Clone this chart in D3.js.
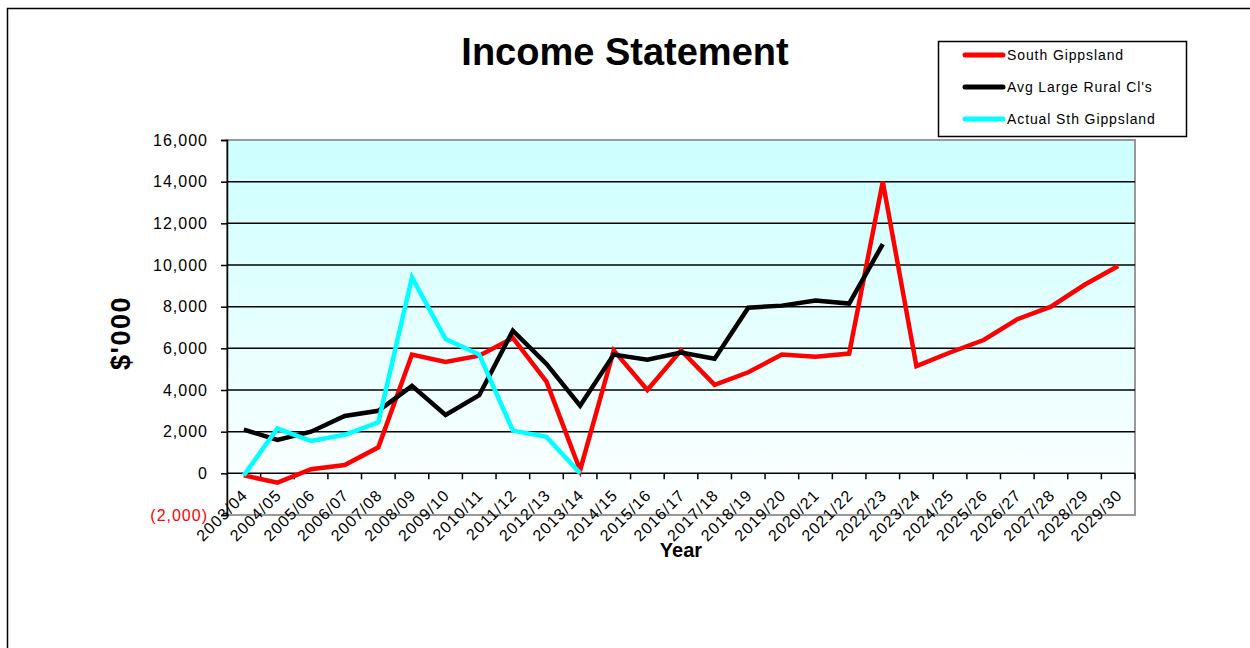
<!DOCTYPE html>
<html>
<head>
<meta charset="utf-8">
<script src="https://cdn.jsdelivr.net/npm/d3@7"></script>
<style>
  body { margin: 0; background: #fff; }
  svg { font-family: 'Liberation Sans', Arial, sans-serif; }
</style>
</head>
<body>
<svg id="chart" width="1250" height="648"></svg>
<script>
const years = ['2003/04', '2004/05', '2005/06', '2006/07', '2007/08', '2008/09', '2009/10',
    '2010/11', '2011/12', '2012/13', '2013/14', '2014/15', '2015/16', '2016/17', '2017/18',
    '2018/19', '2019/20', '2020/21', '2021/22', '2022/23', '2023/24', '2024/25', '2025/26',
    '2026/27', '2027/28', '2028/29', '2029/30'];

const southGippsland = [-100, -450, 200, 400, 1250, 5700, 5350, 5650, 6500, 4400, 150,
    5900, 4000, 5900, 4250, 4850, 5700, 5600, 5750, 14000, 5150, 5800, 6400, 7400, 8000, 9050, 9950];
const avgLargeRural = [2100, 1600, 2000, 2750, 3000, 4200, 2800, 3750, 6850, 5250, 3250,
    5700, 5450, 5800, 5500, 7950, 8050, 8300, 8150, 11000];
const actualSthGippsland = [-100, 2150, 1550, 1850, 2450, 9400, 6450, 5700, 2050, 1750, 0];

const yTicks = [-2000, 0, 2000, 4000, 6000, 8000, 10000, 12000, 14000, 16000];

const series = [
    { name: 'South Gippsland', color: '#ff0000', values: southGippsland },
    { name: "Avg Large Rural Cl's", color: '#000000', values: avgLargeRural },
    { name: 'Actual Sth Gippsland', color: '#00ffff', values: actualSthGippsland }
];

const plot = { left: 227, top: 140, right: 1135, bottom: 515 };

const svg = d3.select('#chart');

// outer frame
svg.append('rect')
    .attr('x', 7.5).attr('y', 8.5)
    .attr('width', 1260).attr('height', 700)
    .attr('fill', 'none').attr('stroke', '#000').attr('stroke-width', 1.5);

const defs = svg.append('defs');
const grad = defs.append('linearGradient')
    .attr('id', 'bg').attr('x1', 0).attr('y1', 0).attr('x2', 0).attr('y2', 1);
grad.append('stop').attr('offset', '0%').attr('stop-color', '#ccffff');
grad.append('stop').attr('offset', '100%').attr('stop-color', '#ffffff');

const x = d3.scaleBand()
    .domain(years)
    .range([plot.left, plot.right])
    .padding(0);

const y = d3.scaleLinear()
    .domain([-2000, 16000])
    .range([plot.bottom, plot.top]);

svg.append('rect')
    .attr('x', plot.left).attr('y', plot.top)
    .attr('width', plot.right - plot.left).attr('height', plot.bottom - plot.top)
    .attr('fill', 'url(#bg)')
    .attr('stroke', '#999').attr('stroke-width', 2);

// gridlines
svg.append('g')
    .selectAll('line')
    .data(yTicks.filter(d => d > -2000 && d < 16000))
    .enter().append('line')
    .attr('x1', plot.left).attr('x2', plot.right)
    .attr('y1', d => y(d)).attr('y2', d => y(d))
    .attr('stroke', '#000').attr('stroke-width', 1.5);

// y axis
const yAxis = svg.append('g')
    .attr('transform', `translate(${plot.left},0)`)
    .call(d3.axisLeft(y).tickValues(yTicks).tickSize(6).tickPadding(13)
        .tickFormat(d => d < 0 ? `(${d3.format(',')(-d)})` : d3.format(',')(d)));
yAxis.select('.domain').attr('stroke', '#000').attr('stroke-width', 1.5);
yAxis.selectAll('.tick line').attr('stroke', '#000').attr('stroke-width', 1.5);
yAxis.selectAll('.tick text')
    .attr('font-size', 16)
    .attr('letter-spacing', '1px')
    .attr('fill', d => d < 0 ? '#ff0000' : '#000');

// x axis along zero line, ticks between categories
const bounds = years.slice(1).map(d => x(d)).concat([plot.right]);
svg.append('g')
    .selectAll('line')
    .data(bounds)
    .enter().append('line')
    .attr('x1', d => d).attr('x2', d => d)
    .attr('y1', y(0)).attr('y2', y(0) + 6)
    .attr('stroke', '#000').attr('stroke-width', 1.5);

svg.append('g')
    .selectAll('text')
    .data(years)
    .enter().append('text')
    .attr('transform', d => `translate(${x(d) + x.bandwidth() / 2 + 5},${y(0) + 23}) rotate(-45)`)
    .attr('text-anchor', 'end')
    .attr('font-size', 16)
    .attr('letter-spacing', '1px')
    .attr('fill', '#000')
    .text(d => d);

// lines
const line = d3.line()
    .x((d, i) => x(years[i]) + x.bandwidth() / 2)
    .y(d => y(d));

svg.append('g')
    .selectAll('path')
    .data(series)
    .enter().append('path')
    .attr('d', d => line(d.values))
    .attr('fill', 'none')
    .attr('stroke', d => d.color)
    .attr('stroke-width', 4.5)
    .attr('stroke-linejoin', 'miter');

// title
svg.append('text')
    .attr('x', 625).attr('y', 65)
    .attr('text-anchor', 'middle')
    .attr('font-size', 38)
    .attr('font-weight', 'bold')
    .text('Income Statement');

// axis titles
svg.append('text')
    .attr('transform', `translate(130,333) rotate(-90)`)
    .attr('text-anchor', 'middle')
    .attr('font-size', 27)
    .attr('font-weight', 'bold')
    .attr('letter-spacing', '1.5px')
    .text("$'000");

svg.append('text')
    .attr('x', 681).attr('y', 557)
    .attr('text-anchor', 'middle')
    .attr('font-size', 20)
    .attr('font-weight', 'bold')
    .text('Year');

// legend
const legend = svg.append('g');
legend.append('rect')
    .attr('x', 938.5).attr('y', 41.5)
    .attr('width', 248).attr('height', 95)
    .attr('fill', '#fff').attr('stroke', '#000').attr('stroke-width', 1.5);

const item = legend.selectAll('g.item')
    .data(series)
    .enter().append('g')
    .attr('class', 'item')
    .attr('transform', (d, i) => `translate(965,${55 + i * 32})`);
item.append('line')
    .attr('x1', 0).attr('x2', 38)
    .attr('stroke', d => d.color).attr('stroke-width', 5)
    .attr('stroke-linecap', 'round');
item.append('text')
    .attr('x', 42).attr('dy', '0.35em')
    .attr('font-size', 14)
    .attr('letter-spacing', '0.9px')
    .text(d => d.name);
</script>
</body>
</html>
